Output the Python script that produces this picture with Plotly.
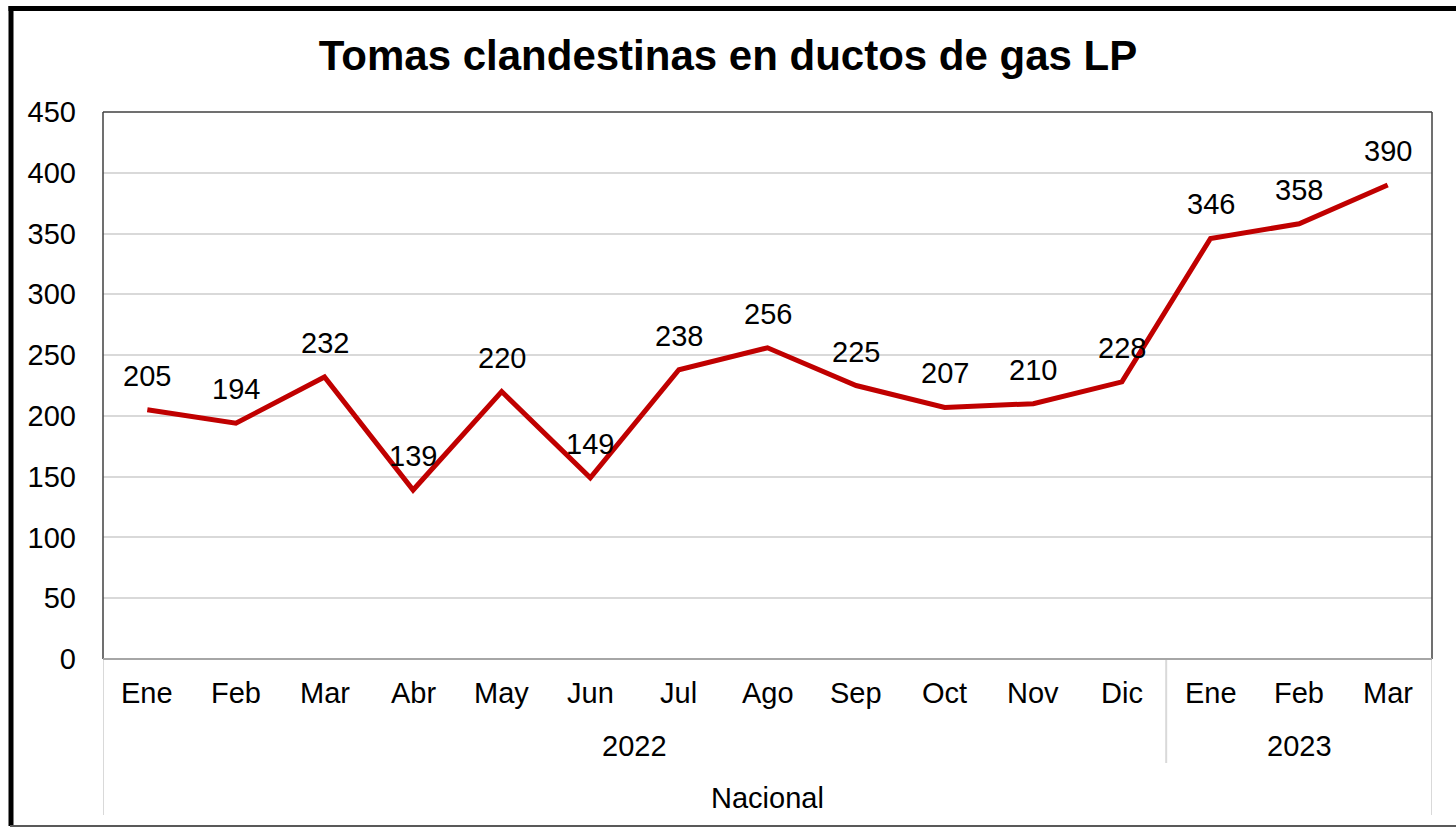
import plotly.graph_objects as go

# ---- data ----
months = ["Ene", "Feb", "Mar", "Abr", "May", "Jun", "Jul", "Ago", "Sep", "Oct", "Nov", "Dic",
          "Ene", "Feb", "Mar"]
values = [205, 194, 232, 139, 220, 149, 238, 256, 225, 207, 210, 228, 346, 358, 390]
years = ["2022", "2023"]
year_spans = [(0, 11), (12, 14)]
group_label = "Nacional"
title_text = "Tomas clandestinas en ductos de gas LP"
y_ticks = [0, 50, 100, 150, 200, 250, 300, 350, 400, 450]

# ---- layout geometry (pixels) ----
W, H = 1456, 827
L, R, T, B = 103, 1432, 112, 659
PW, PH = R - L, B - T

def px_x(px):
    return (px - L) / PW

def px_y(py):
    return (B - py) / PH

FONT = "Liberation Sans, Arial, sans-serif"
FS = 29
xs = list(range(len(months)))

fig = go.Figure()
fig.add_trace(go.Scatter(
    x=xs, y=values, mode="lines",
    line=dict(color="#C00000", width=5),
    hoverinfo="skip", showlegend=False,
))

annotations = []
# data labels
for i, v in enumerate(values):
    annotations.append(dict(x=i, y=v, xref="x", yref="y", text=str(v), showarrow=False,
                            yshift=34, font=dict(size=FS, color="#000000", family=FONT)))
# month labels
for i, m in enumerate(months):
    annotations.append(dict(x=i, y=px_y(693), xref="x", yref="paper", text=m, showarrow=False,
                            yanchor="middle", font=dict(size=FS, color="#000000", family=FONT)))
# year labels
for yr, (a, b) in zip(years, year_spans):
    annotations.append(dict(x=(a + b) / 2, y=px_y(746), xref="x", yref="paper", text=yr,
                            showarrow=False, yanchor="middle",
                            font=dict(size=FS, color="#000000", family=FONT)))
# group label
annotations.append(dict(x=(len(months) - 1) / 2, y=px_y(798), xref="x", yref="paper",
                        text=group_label, showarrow=False, yanchor="middle",
                        font=dict(size=FS, color="#000000", family=FONT)))

shapes = []
sep_col = "#D9D9D9"
# category separators
shapes.append(dict(type="line", xref="x", yref="paper", x0=-0.5, x1=-0.5,
                   y0=0, y1=px_y(815), line=dict(color=sep_col, width=2)))
shapes.append(dict(type="line", xref="x", yref="paper", x0=11.5, x1=11.5,
                   y0=0, y1=px_y(763), line=dict(color=sep_col, width=2)))
shapes.append(dict(type="line", xref="x", yref="paper", x0=len(months) - 0.5, x1=len(months) - 0.5,
                   y0=0, y1=px_y(815), line=dict(color=sep_col, width=2)))
# plot frame
frame_col = "#404040"
shapes.append(dict(type="line", xref="paper", yref="paper", x0=0, x1=0, y0=0, y1=1,
                   line=dict(color=frame_col, width=1.5)))
shapes.append(dict(type="line", xref="paper", yref="paper", x0=0, x1=1, y0=1, y1=1,
                   line=dict(color=frame_col, width=1.5)))
shapes.append(dict(type="line", xref="paper", yref="paper", x0=1, x1=1, y0=0, y1=1,
                   line=dict(color=frame_col, width=1.5)))
shapes.append(dict(type="line", xref="paper", yref="paper", x0=0, x1=1, y0=0, y1=0,
                   line=dict(color="#A6A6A6", width=2)))
# outer chart border
shapes.append(dict(type="line", xref="paper", yref="paper", x0=px_x(11), x1=px_x(11),
                   y0=px_y(826), y1=px_y(6), line=dict(color="#000000", width=5)))
shapes.append(dict(type="line", xref="paper", yref="paper", x0=px_x(8.5), x1=px_x(1470),
                   y0=px_y(8.5), y1=px_y(8.5), line=dict(color="#000000", width=5)))
shapes.append(dict(type="line", xref="paper", yref="paper", x0=px_x(10), x1=px_x(1470),
                   y0=px_y(826), y1=px_y(826), line=dict(color="#595959", width=2)))

fig.update_layout(
    width=W, height=H,
    margin=dict(l=L, r=W - R, t=T, b=H - B, pad=0),
    paper_bgcolor="#FFFFFF", plot_bgcolor="#FFFFFF",
    title=dict(text="<b>" + title_text + "</b>", xref="container", yref="container",
               x=0.5, xanchor="center", y=1 - 55 / H, yanchor="middle",
               font=dict(size=42, color="#000000", family=FONT)),
    xaxis=dict(range=[-0.5, len(months) - 0.5], showgrid=False, zeroline=False,
               showticklabels=False, ticks="", showline=False, fixedrange=True),
    yaxis=dict(range=[0, 450], tickvals=y_ticks, ticktext=[str(t) for t in y_ticks],
               showgrid=True, gridcolor="#D9D9D9", gridwidth=1.5, zeroline=False,
               showline=False, ticks="", ticklabelstandoff=26,
               tickfont=dict(size=FS, color="#000000", family=FONT)),
    annotations=annotations,
    shapes=shapes,
    showlegend=False,
)

fig.write_html("out.html",
               config={"displayModeBar": False},
               post_script="document.body.style.margin='0';document.body.style.overflow='hidden';")
